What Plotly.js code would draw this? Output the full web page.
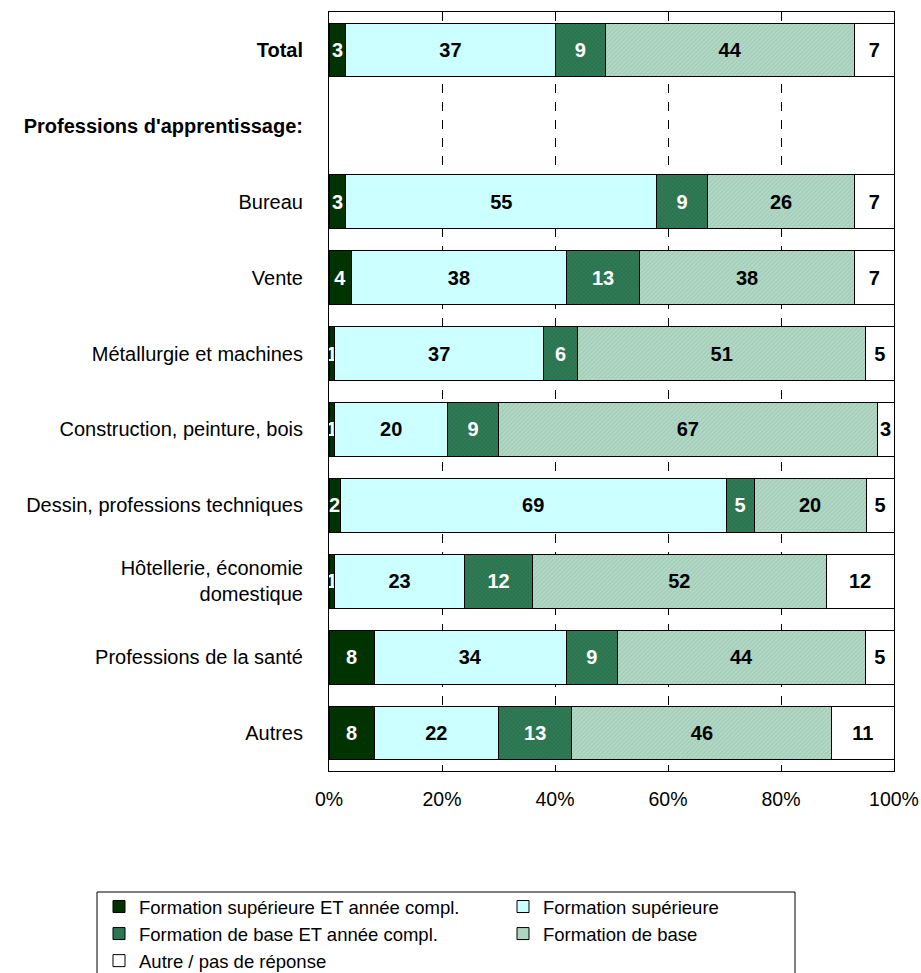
<!DOCTYPE html>
<html>
<head>
<meta charset="utf-8">
<script src="https://cdn.plot.ly/plotly-3.0.1.min.js"></script>
<style>body{margin:0;padding:0;background:#fff;} #chart{width:921px;height:973px;}</style>
</head>
<body>
<div id="chart"></div>
<script>
const categories = [
  "<b>Total</b>",
  "<b>Professions d'apprentissage:</b>",
  "Bureau",
  "Vente",
  "Métallurgie et machines",
  "Construction, peinture, bois",
  "Dessin, professions techniques",
  "Hôtellerie, économie<br>domestique",
  "Professions de la santé",
  "Autres"
];
const seriesNames = [
  "Formation supérieure ET année compl.",
  "Formation supérieure",
  "Formation de base ET année compl.",
  "Formation de base",
  "Autre / pas de réponse"
];
const supET   = [3, null, 3, 4, 1, 1, 2, 1, 8, 8];
const sup     = [37, null, 55, 38, 37, 20, 69, 23, 34, 22];
const baseET  = [9, null, 9, 13, 6, 9, 5, 12, 9, 13];
const base    = [44, null, 26, 38, 51, 67, 20, 52, 44, 46];
const autre   = [7, null, 7, 7, 5, 3, 5, 12, 5, 11];
const tickVals = [0, 20, 40, 60, 80, 100];
const tickText = ["0%", "20%", "40%", "60%", "80%", "100%"];

const values = [supET, sup, baseET, base, autre];
const fills = ["#003300", "#CCFFFF", "#2E7A55", "#AAD2C0", "#FFFFFF"];
const textCols = ["#FFFFFF", "#000000", "#FFFFFF", "#000000", "#000000"];
const patterns = [
  {shape: ""},
  {shape: ""},
  {shape: "x", fgcolor: "#22603F", bgcolor: "#2F7B56", size: 3, solidity: 0.2},
  {shape: "/", fgcolor: "#9CC7B3", bgcolor: "#B2D8C6", size: 3, solidity: 0.3},
  {shape: ""}
];

const traces = values.map((v, i) => ({
  type: "bar",
  orientation: "h",
  name: seriesNames[i],
  y: categories,
  x: v,
  text: v.map(d => d === null ? "" : String(d)),
  texttemplate: "%{text}",
  textposition: "inside",
  insidetextanchor: "middle",
  constraintext: "none",
  textfont: {family: "Liberation Sans, Arial, sans-serif", size: 20, color: textCols[i], weight: "bold"},
  marker: {color: fills[i], line: {color: "#000000", width: 1}, pattern: patterns[i]},
  hoverinfo: "skip"
}));

const layout = {
  width: 921,
  height: 973,
  margin: {l: 329, r: 27, t: 12, b: 202, autoexpand: false},
  paper_bgcolor: "#FFFFFF",
  plot_bgcolor: "#FFFFFF",
  barmode: "stack",
  barnorm: "percent",
  bargap: 0.29,
  uniformtext: {mode: "show", minsize: 20},
  font: {family: "Liberation Sans, Arial, sans-serif", size: 20, color: "#000000"},
  xaxis: {
    range: [0, 100],
    tickvals: tickVals,
    ticktext: tickText,
    showgrid: true,
    gridcolor: "#000000",
    gridwidth: 1,
    griddash: "dash",
    zeroline: false,
    showline: true,
    linecolor: "#000000",
    linewidth: 1,
    mirror: true,
    ticks: "inside",
    ticklen: 6,
    tickcolor: "#000000",
    ticklabelstandoff: 11,
    ticklabeloverflow: "allow",
    tickfont: {size: 19.5},
    fixedrange: true
  },
  yaxis: {
    autorange: "reversed",
    showline: true,
    linecolor: "#000000",
    linewidth: 1,
    mirror: true,
    ticks: "",
    ticklabelstandoff: 21,
    ticklabeloverflow: "allow",
    tickfont: {size: 20},
    showgrid: false,
    fixedrange: true
  },
  showlegend: true,
  legend: {
    orientation: "h",
    x: (99 - 329) / 565,
    xanchor: "left",
    y: (771 - 888) / 759,
    yanchor: "top",
    entrywidth: 359,
    traceorder: "normal",
    bgcolor: "rgba(0,0,0,0)",
    borderwidth: 0,
    font: {size: 18.5},
    itemclick: false,
    itemdoubleclick: false
  },
  shapes: [{
    type: "rect", xref: "paper", yref: "paper",
    x0: (97 - 329) / 565, x1: (795 - 329) / 565,
    y0: (771 - 892) / 759, y1: (771 - 990) / 759,
    line: {color: "#000000", width: 1}, fillcolor: "rgba(0,0,0,0)", layer: "above"
  }]
};

Plotly.newPlot("chart", traces, layout, {displayModeBar: false, staticPlot: true});
</script>
</body>
</html>
